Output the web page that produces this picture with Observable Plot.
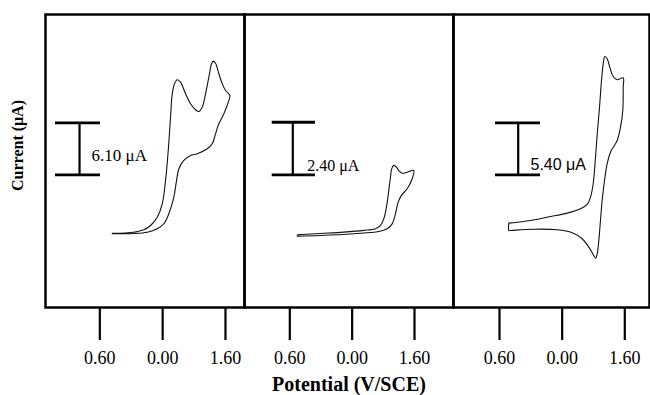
<!DOCTYPE html>
<html><head><meta charset="utf-8">
<script src="https://cdn.jsdelivr.net/npm/d3@7"></script>
<script src="https://cdn.jsdelivr.net/npm/@observablehq/plot@0.6"></script>
<style>
html,body{margin:0;padding:0;background:#fff;}
#chart{position:relative;width:650px;height:395px;overflow:hidden;background:#fff;}
#chart svg{position:absolute;top:0;}
</style></head><body><div id="chart"></div>
<script>
// ---- data ----
const tickValues = [-0.6, 0.5, 1.6];
const tickLabels = ["0.60", "0.00", "1.60"];
const yAxisLabel = "Current (μA)";
const xAxisLabel = "Potential (V/SCE)";
const scaleBarValues = [6.10, 2.40, 5.40];
const scaleBarLabels = ["6.10 μA", "2.40 μA", "5.40 μA"];

// Panel 1 cyclic voltammogram (V, μA)
const cv1Potential = [-0.383,-0.005,0.171,0.288,0.405,0.493,0.551,0.598,0.638,0.668,0.708,0.756,0.813,0.901,0.988,1.076,1.134,1.193,1.251,1.309,1.356,1.386,1.426,1.484,1.544,1.601,1.677,
  1.659,1.572,1.484,1.426,1.368,1.281,1.106,0.988,0.871,0.784,0.743,0.696,0.608,0.521,0.405,0.230,-0.005,-0.383];
const cv1Current = [0.15,0.27,0.55,1.06,2.03,3.60,6.33,9.85,13.76,16.50,17.68,18.15,17.87,16.50,15.33,14.63,14.43,14.93,16.50,18.45,20.02,20.33,20.09,18.85,17.68,16.89,16.30,
  15.72,14.16,12.99,11.81,10.64,10.05,9.47,9.27,8.68,7.71,6.33,4.38,2.43,1.26,0.67,0.27,0.12,0.08];

// Panel 2
const cv2Potential = [-0.469,-0.059,0.352,0.705,0.911,1.000,1.058,1.105,1.146,1.176,1.199,1.234,1.282,1.329,1.382,1.471,1.587,
  1.559,1.471,1.370,1.312,1.264,1.206,1.118,0.970,0.529,-0.059,-0.469];
const cv2Current = [0.03,0.09,0.15,0.23,0.31,0.46,0.76,1.29,2.05,2.66,3.05,3.20,3.12,2.94,2.84,2.89,2.97,
  2.59,2.13,1.83,1.52,0.99,0.53,0.31,0.18,0.08,0.00,-0.03];

// Panel 3
const cv3Potential = [-0.437,-0.056,0.296,0.589,0.822,0.940,0.998,1.045,1.086,1.116,1.156,1.191,1.221,1.249,1.291,1.337,1.396,1.467,1.572,
  1.572,1.565,1.525,1.467,1.349,1.291,1.244,1.203,1.173,1.144,1.116,1.086,1.045,0.968,0.852,0.677,0.413,0.002,-0.419,-0.437];
const cv3Current = [0.76,1.04,1.45,1.80,2.25,2.70,3.46,4.85,7.61,10.04,12.80,15.58,17.31,18.07,17.83,16.96,15.99,15.65,15.86,
  14.88,12.46,10.73,9.35,8.13,6.93,5.19,3.12,1.04,-1.04,-2.42,-2.88,-2.49,-1.73,-0.86,-0.24,0.07,0.13,0.00,0.00];

// ---- layout (positions / styles) ----
const layout = [
  {left:0, width:246, mL:45, mR:2, xDomain:[-1.551,1.933], yDomain:[-8.56,25.8],
   barX:-0.955, capX:[-1.376,-0.588], barBase:7.0, labelX:-0.745, labelY:9.27, font:"Liberation Serif", fontSize:17, closed:false},
  {left:242, width:213, mL:2, mR:2, xDomain:[-1.399,2.288], yDomain:[-3.29,10.09],
   barX:-0.547, capX:[-0.910,-0.147], barBase:2.77, labelX:-0.293, labelY:3.16, font:"Liberation Serif", fontSize:16, closed:false},
  {left:451, width:199, mL:2, mR:1, xDomain:[-1.408,2.034], yDomain:[-8.0,22.43],
   barX:-0.272, capX:[-0.670,0.120], barBase:5.78, labelX:-0.056, labelY:6.82, font:"Liberation Sans", fontSize:16, closed:true}
];
const curves = [[cv1Potential, cv1Current], [cv2Potential, cv2Current], [cv3Potential, cv3Current]];

const chart = document.getElementById("chart");
layout.forEach((L, p) => {
  const [xs, ys] = curves[p];
  let pts = xs.map((x, i) => ({x, y: ys[i]}));
  if (L.closed) pts = pts.concat([pts[0]]);
  const v = scaleBarValues[p];
  const marks = [
    Plot.frame({stroke: "#000", strokeWidth: 2.5}),
    Plot.axisX(tickValues, {label: null, tickSize: 33, tickPadding: 11, fontSize: 18, strokeWidth: 2.2,
      tickFormat: d => tickLabels[tickValues.indexOf(d)], fontFamily: "Liberation Serif"}),
    Plot.line(pts, {x: "x", y: "y", curve: "catmull-rom", stroke: "#111", strokeWidth: 1.1}),
    Plot.ruleX([v], {x: () => L.barX, y1: () => L.barBase, y2: d => L.barBase + d, stroke: "#000", strokeWidth: 2.2}),
    Plot.ruleY([L.barBase, L.barBase + v], {x1: L.capX[0], x2: L.capX[1], stroke: "#000", strokeWidth: 2.8}),
    Plot.text([scaleBarLabels[p]], {x: () => L.labelX, y: () => L.labelY, text: d => d, textAnchor: "start",
      fontSize: L.fontSize, fontFamily: L.font, fill: "#000"})
  ];
  if (p === 0) {
    marks.push(Plot.text([yAxisLabel], {frameAnchor: "left", text: d => d, rotate: -90, dx: -28, dy: -15.5,
      textAnchor: "middle", lineAnchor: "middle",
      fontSize: 16, fontWeight: "bold", fontFamily: "Liberation Serif", fill: "#000"}));
  }
  if (p === 1) {
    marks.push(Plot.text([xAxisLabel], {frameAnchor: "bottom", text: d => d, dy: 77, lineAnchor: "middle",
      fontSize: 20, fontWeight: "bold", fontFamily: "Liberation Serif", fill: "#000"}));
  }
  const svg = Plot.plot({
    width: L.width, height: 395,
    marginLeft: L.mL, marginRight: L.mR, marginTop: 14, marginBottom: 88,
    x: {domain: L.xDomain, label: null},
    y: {domain: L.yDomain, axis: null},
    style: {background: "transparent", overflow: "visible", color: "#000", fontFamily: "Liberation Serif"},
    marks
  });
  svg.style.left = L.left + "px";
  chart.appendChild(svg);
});
</script></body></html>
